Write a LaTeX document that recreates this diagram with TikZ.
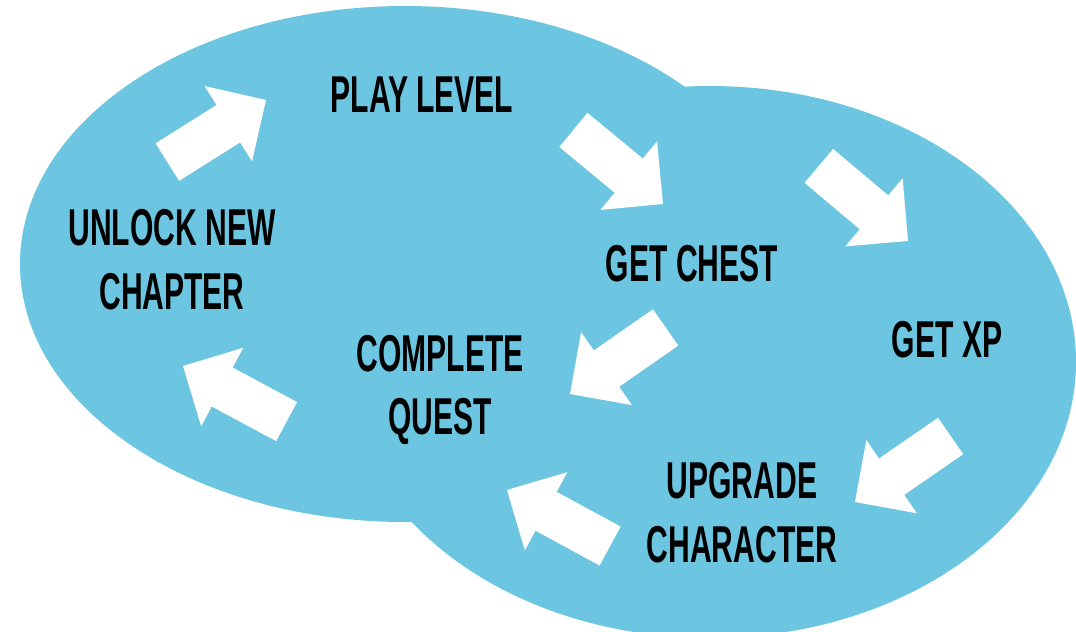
\documentclass[tikz,border=0pt]{standalone}
\usepackage{fontspec}
\setmainfont{Liberation Sans}[FakeStretch=0.58]
\usetikzlibrary{arrows.meta}
\definecolor{csky}{HTML}{6CC6E1}
\tikzset{
  every picture/.style={line width=1pt},
  lbl/.style={font=\fontsize{29.5}{36.4}\selectfont\bfseries, align=center, inner sep=0pt, text=black},
  blk/.style={draw=white, line width=0.88cm, -{Triangle[length=0.89cm, width=1.78cm, line width=0pt]},
              postaction={draw=white, line width=0.88cm, arrows=-, shorten >=0.7cm}},
}

\begin{document}
\begin{tikzpicture}[x=0.02cm, y=-0.02cm]
  \useasboundingbox (0,0) rectangle (1076,632);
  % the two loops
  \fill[csky] (405,264) ellipse [x radius=385, y radius=258];
  \fill[csky] (710,362) ellipse [x radius=366, y radius=276];
  % block arrows
  \foreach \n/\sx/\sy/\ex/\ey in {1/167.5/162/266/100, 2/573.5/130/663/204, 3/819/166/908/241,
                                  4/665.5/327.5/570/394, 5/950.5/436/855/502, 6/610/546/507/490, 7/286.5/421.5/183/366} {
    \coordinate (s\n) at (\sx,\sy); \coordinate (e\n) at (\ex,\ey);
    \draw[blk] (s\n) -- (e\n);
  }
  % steps
  \node[lbl] (play) at (422,94.5) {PLAY LEVEL};
  \node[lbl] (chest) at (692,264) {GET CHEST};
  \node[lbl] (xp) at (947,340) {GET XP};
  \node[lbl] (upgrade) at (742,513) {UPGRADE\\CHARACTER};
  \node[lbl] (quest) at (440,390) {COMPLETE\\QUEST};
  \node[lbl] (unlock) at (172,260) {UNLOCK NEW\\CHAPTER};
\end{tikzpicture}
\end{document}
